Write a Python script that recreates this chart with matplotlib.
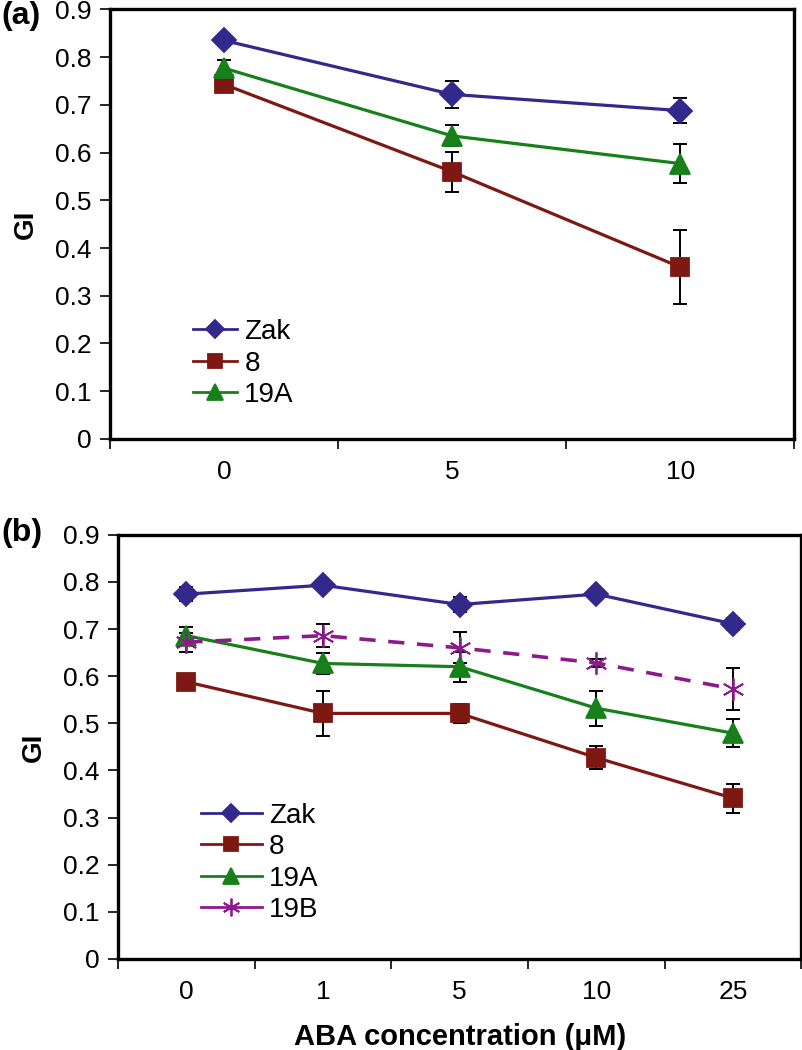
import numpy as np
import matplotlib
matplotlib.use('Agg')
import matplotlib.pyplot as plt

plt.rcParams['font.family'] = ['Liberation Sans', 'DejaVu Sans']

# panel (a)
conc_a = ['0', '5', '10']
zak_a = [0.835, 0.722, 0.688]
zak_a_err = [0.010, 0.028, 0.027]
l8_a = [0.743, 0.560, 0.360]
l8_a_err = [0.015, 0.042, 0.077]
l19a_a = [0.777, 0.635, 0.577]
l19a_a_err = [0.017, 0.022, 0.040]

# panel (b)
conc_b = ['0', '1', '5', '10', '25']
zak_b = [0.774, 0.793, 0.752, 0.774, 0.711]
zak_b_err = [0.015, 0.005, 0.015, 0.005, 0.013]
l8_b = [0.588, 0.521, 0.521, 0.427, 0.341]
l8_b_err = [0.005, 0.048, 0.020, 0.024, 0.031]
l19a_b = [0.686, 0.627, 0.620, 0.532, 0.479]
l19a_b_err = [0.018, 0.023, 0.032, 0.037, 0.030]
l19b_b = [0.672, 0.686, 0.660, 0.628, 0.573]
l19b_b_err = [0.020, 0.025, 0.033, 0.008, 0.044]

yticks = [0, 0.1, 0.2, 0.3, 0.4, 0.5, 0.6, 0.7, 0.8, 0.9]
ytick_labels = ['0', '0.1', '0.2', '0.3', '0.4', '0.5', '0.6', '0.7', '0.8', '0.9']

colors = {'Zak': '#33288C', '8': '#7E1812', '19A': '#17801A', '19B': '#8C1A8C'}
markers = {'Zak': ('D', 12), '8': ('s', 13), '19A': ('^', 14), '19B': ((6, 2, 0), 16)}


def draw_series(ax, name, vals, errs, dashed=False):
    x = np.arange(len(vals))
    m, ms = markers[name]
    ax.errorbar(x, vals, yerr=errs, fmt='none', ecolor='black', elinewidth=1.4,
                capsize=5, capthick=1.4, zorder=2)
    ls = (0, (4.5, 3.5)) if dashed else '-'
    ax.plot(x, vals, color=colors[name], linestyle=ls, linewidth=2.3 if not dashed else 2.6,
            marker=m, markersize=ms, markerfacecolor=colors[name],
            markeredgecolor=colors[name], markeredgewidth=1.3, zorder=3, label=name)


def style_axes(ax, cats):
    n = len(cats)
    ax.set_xlim(-0.5, n - 0.5)
    ax.set_ylim(0, 0.9)
    ax.set_yticks(yticks)
    ax.set_yticklabels(ytick_labels)
    ax.set_xticks(np.arange(n))
    ax.set_xticklabels(cats)
    ax.set_xticks(np.arange(n + 1) - 0.5, minor=True)
    ax.tick_params(axis='x', which='major', length=0, pad=15, labelsize=19)
    ax.tick_params(axis='x', which='minor', length=7, width=1.2, direction='out')
    ax.tick_params(axis='y', length=7, width=1.2, direction='out', pad=6, labelsize=19)
    for sp in ax.spines.values():
        sp.set_linewidth(2.4)
    ax.set_ylabel('GI', fontsize=20, fontweight='bold', labelpad=12)


fig = plt.figure(figsize=(8.03, 10.5), dpi=100)

ax1 = fig.add_axes([0.137, 0.582, 0.852, 0.409])
draw_series(ax1, 'Zak', zak_a, zak_a_err)
draw_series(ax1, '8', l8_a, l8_a_err)
draw_series(ax1, '19A', l19a_a, l19a_a_err)
style_axes(ax1, conc_a)
leg1 = ax1.legend(loc='upper left', bbox_to_anchor=(0.105, 0.305), frameon=False, fontsize=20,
                  handlelength=1.6, handletextpad=0.25, labelspacing=0.2, borderaxespad=0)
for h in leg1.get_lines():
    h.set_linewidth(2)
    h.set_markersize(h.get_markersize() * 0.8)

ax2 = fig.add_axes([0.147, 0.0867, 0.851, 0.404])
draw_series(ax2, 'Zak', zak_b, zak_b_err)
draw_series(ax2, '8', l8_b, l8_b_err)
draw_series(ax2, '19A', l19a_b, l19a_b_err)
draw_series(ax2, '19B', l19b_b, l19b_b_err, dashed=True)
style_axes(ax2, conc_b)
ax2.set_xlabel('ABA concentration (μM)', fontsize=21, fontweight='bold', labelpad=14)
leg2 = ax2.legend(loc='upper left', bbox_to_anchor=(0.105, 0.395), frameon=False, fontsize=20,
                  handlelength=2.2, handletextpad=0.25, labelspacing=0.2, borderaxespad=0)
for h in leg2.get_lines():
    h.set_linewidth(2)
    h.set_linestyle('-')
    h.set_markersize(h.get_markersize() * 0.8)

fig.text(0.002, 0.985, '(a)', fontsize=23, fontweight='bold', va='center', ha='left')
fig.text(0.002, 0.492, '(b)', fontsize=23, fontweight='bold', va='center', ha='left')

fig.savefig('out.png', dpi=100)
